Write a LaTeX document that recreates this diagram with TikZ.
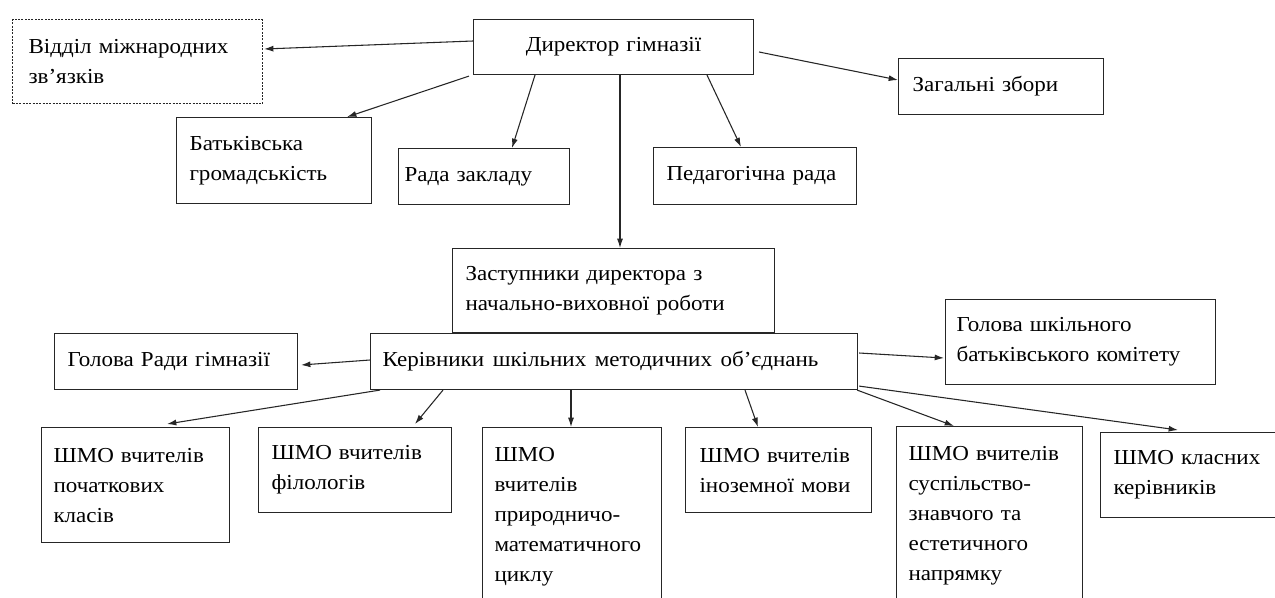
\documentclass[tikz,border=0pt]{standalone}
\usepackage{fontspec}
\setmainfont[FakeStretch=1.08]{Liberation Serif}
\usetikzlibrary{arrows.meta,calc}
\tikzset{
  ubox/.style={draw=black!85, line width=0.8pt, rectangle, inner ysep=0pt, align=left,
    font=\fontsize{16}{22.5}\selectfont},
  conn/.style={draw=black!85, line width=0.8pt, -{Latex[length=7pt,width=4.5pt]}},
}
\newcommand\orgbox[8]{%
  \pgfmathsetmacro\obw{(#4-#2)*0.75}%
  \pgfmathsetmacro\obh{(#5-#3)*0.75}%
  \pgfmathsetmacro\obt{(#4-#2-2*#6)*0.75}%
  \pgfmathsetmacro\obs{#6*0.75}%
  \node[ubox, anchor=north west, inner xsep=\obs pt, text width=\obt pt,
    minimum width=\obw pt, minimum height=\obh pt, #7] (#1) at (#2,#3) {#8};}
\newcommand\wsp{\hspace{0.4em}}
\begin{document}
\begin{tikzpicture}[x=0.75pt,y=-0.75pt]
\useasboundingbox (0,0) rectangle (1275,597);
\fill[white] (0,0) rectangle (1275,597);
\clip (0,0) rectangle (1275,597);
% boxes
\orgbox{vid}{12}{19}{262}{103}{16}{dash pattern=on 1.5pt off 1pt}{Відділ міжнародних\\зв’язків}
\orgbox{dir}{473}{19}{753}{74}{13}{align=center}{Директор гімназії}
\orgbox{zag}{898}{58}{1103}{114}{14}{}{Загальні збори}
\orgbox{bat}{176}{117}{371}{203}{13}{}{Батьківська\\громадськість}
\orgbox{rada}{398}{148}{569}{204}{6}{}{Рада закладу}
\orgbox{ped}{653}{147}{856}{204}{13}{}{Педагогічна рада}
\orgbox{zast}{452}{248}{774}{332}{13}{}{Заступники директора з\\начально-виховної роботи}
\orgbox{ker}{370}{333}{857}{389}{12}{}{Керівники\wsp шкільних\wsp методичних\wsp об’єднань}
\orgbox{gr}{54}{333}{297}{389}{13}{}{Голова Ради гімназії}
\orgbox{gsh}{945}{299}{1215}{384}{11}{}{Голова шкільного\\батьківського комітету}
\orgbox{poch}{41}{427}{229}{542}{12}{}{ШМО вчителів\\початкових\\класів}
\orgbox{fil}{258}{427}{451}{512}{13}{}{ШМО вчителів\\філологів}
\orgbox{pm}{482}{427}{661}{605}{12}{}{ШМО\\вчителів\\природничо-\\математичного\\циклу}
\orgbox{in}{685}{427}{871}{512}{14}{}{ШМО вчителів\\іноземної мови}
\orgbox{sus}{896}{426}{1082}{605}{12}{}{ШМО вчителів\\суспільство-\\знавчого та\\естетичного\\напрямку}
\orgbox{kl}{1100}{432}{1290}{517}{13}{}{ШМО класних\\керівників}
% connectors from director
\draw[conn] ($(dir.north west)+(0,22)$) -- ($(vid.north east)+(1,30)$);
\draw[conn] ($(dir.south west)+(-4,1)$) -- ($(bat.north west)+(171,0)$);
\draw[conn] ($(dir.south west)+(62,0)$) -- ($(rada.north west)+(114,0)$);
\draw[conn] ($(dir.south west)+(147,0)$) -- ($(zast.north west)+(168,0)$);
\draw[conn] ($(dir.south west)+(234,0)$) -- ($(ped.north west)+(88,0)$);
\draw[conn] ($(dir.north east)+(5,33)$) -- ($(zag.north west)+(0,22)$);
% connectors from heads of methodical associations
\draw[conn] ($(ker.north west)+(0,27)$) -- ($(gr.north east)+(3,32)$);
\draw[conn] ($(ker.north east)+(1,20)$) -- ($(gsh.north west)+(-1,59)$);
\draw[conn] ($(ker.south west)+(10,0)$) -- ($(poch.north west)+(126,-3)$);
\draw[conn] ($(ker.south west)+(73,0)$) -- ($(fil.north west)+(157,-3)$);
\draw[conn] ($(ker.south west)+(201,0)$) -- ($(pm.north west)+(89,0)$);
\draw[conn] ($(ker.south west)+(375,0)$) -- ($(in.north west)+(73,0)$);
\draw[conn] ($(ker.south east)+(-1,0)$) -- ($(sus.north west)+(58,0)$);
\draw[conn] ($(ker.south east)+(1,-4)$) -- ($(kl.north west)+(78,-2)$);
\end{tikzpicture}
\end{document}
